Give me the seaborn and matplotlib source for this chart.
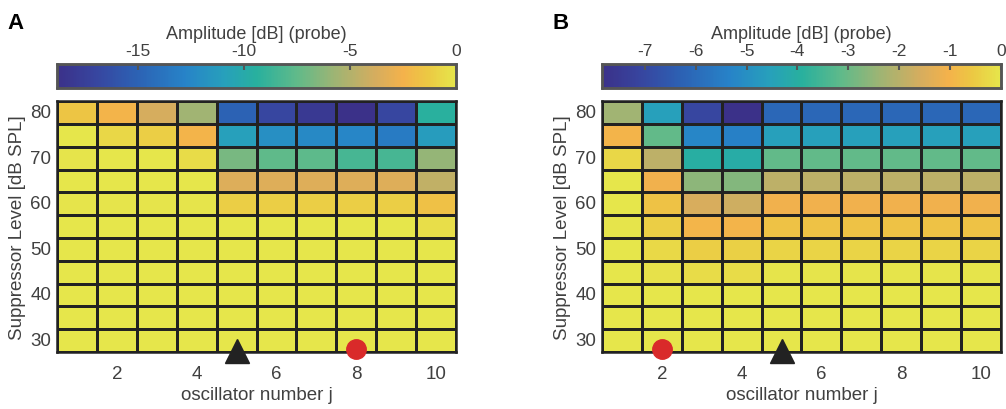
import numpy as np
import pandas as pd
import matplotlib
matplotlib.use("Agg")
import matplotlib.pyplot as plt
import seaborn as sns
from matplotlib.colors import LinearSegmentedColormap

# oscillator numbers and suppressor levels (top row = 80 dB SPL)
oscillators = list(range(1, 11))
levels = [80, 75, 70, 65, 60, 55, 50, 45, 40, 35, 30]

# panel A: probe amplitude [dB]
amp_a = [
    [-1.5, -2.4, -3.8, -5.6, -15.0, -16.9, -18.0, -18.8, -16.9, -9.4],
    [0.0, -0.7, -1.1, -2.4, -10.9, -12.0, -12.4, -12.6, -13.3, -11.1],
    [-0.1, 0.0, 0.0, -0.5, -6.8, -7.5, -7.6, -8.3, -8.3, -6.0],
    [0.0, 0.0, 0.0, 0.0, -3.5, -3.4, -3.4, -3.4, -3.4, -4.5],
    [-0.1, -0.1, -0.1, -0.1, -1.1, -1.1, -1.1, -1.1, -1.1, -1.7],
    [0.0, 0.0, 0.0, 0.0, 0.0, 0.0, 0.0, 0.0, 0.0, -0.4],
    [0.0, 0.0, 0.0, 0.0, 0.0, 0.0, 0.0, 0.0, 0.0, 0.0],
    [0.0, 0.0, 0.0, 0.0, 0.0, 0.0, 0.0, 0.0, 0.0, 0.0],
    [0.0, 0.0, 0.0, 0.0, 0.0, 0.0, 0.0, 0.0, 0.0, 0.0],
    [0.0, 0.0, 0.0, 0.0, 0.0, 0.0, 0.0, 0.0, 0.0, 0.0],
    [0.0, 0.0, 0.0, 0.0, 0.0, 0.0, 0.0, 0.0, 0.0, 0.0],
]

# panel B: probe amplitude [dB]
amp_b = [
    [-2.35, -4.55, -7.05, -7.84, -6.1, -6.1, -6.1, -6.1, -6.1, -6.1],
    [-1.0, -3.1, -5.25, -5.4, -4.55, -4.55, -4.55, -4.55, -4.55, -4.55],
    [-0.3, -1.95, -4.0, -4.1, -3.1, -3.1, -3.1, -3.1, -3.1, -3.1],
    [0.0, -1.1, -2.6, -2.7, -1.95, -1.95, -1.95, -1.95, -1.95, -1.95],
    [0.0, -0.7, -1.55, -1.7, -1.1, -1.1, -1.1, -1.1, -1.1, -1.1],
    [-0.05, -0.45, -0.95, -1.0, -0.7, -0.7, -0.7, -0.7, -0.7, -0.7],
    [0.0, -0.25, -0.45, -0.4, -0.35, -0.35, -0.35, -0.35, -0.35, -0.35],
    [0.0, -0.1, -0.2, -0.2, -0.05, -0.05, -0.05, -0.05, -0.05, -0.05],
    [0.0, 0.0, 0.0, 0.0, 0.0, 0.0, 0.0, 0.0, 0.0, 0.0],
    [0.0, 0.0, 0.0, 0.0, 0.0, 0.0, 0.0, 0.0, 0.0, 0.0],
    [0.0, 0.0, 0.0, 0.0, 0.0, 0.0, 0.0, 0.0, 0.0, 0.0],
]

# marker positions (oscillator number)
tri_a, dot_a = 5, 8
tri_b, dot_b = 5, 2

vmin_a, vmin_b = -18.8, -7.84
cbar_ticks_a = [-15, -10, -5, 0]
cbar_ticks_b = [-7, -6, -5, -4, -3, -2, -1, 0]

# parula-like map, slightly muted
parula = LinearSegmentedColormap.from_list("parula_ish", [
    (0.00, "#3b3189"), (0.10, "#3746a0"), (0.20, "#2c62b4"),
    (0.32, "#2783c8"), (0.42, "#27a0bb"), (0.50, "#28b09e"),
    (0.60, "#5fba8a"), (0.70, "#a0b473"), (0.80, "#d6ad5e"),
    (0.87, "#f4b24b"), (0.93, "#ecc843"), (1.00, "#e6e64b"),
])

txt = "#404040"
plt.rcParams["font.family"] = ["Liberation Sans", "DejaVu Sans"]

fig = plt.figure(figsize=(10.06, 4.10), dpi=100)


def panel(data, vmin, ticks, tri, dot, left, letter):
    ax = fig.add_axes([left, 0.139, 0.3966, 0.612])
    cax = fig.add_axes([left, 0.783, 0.3966, 0.0585])
    df = pd.DataFrame(data, index=levels, columns=oscillators)
    sns.heatmap(df, ax=ax, cmap=parula, vmin=vmin, vmax=0,
                linewidths=1.8, linecolor="#222222",
                cbar_ax=cax, cbar_kws={"orientation": "horizontal", "ticks": ticks})
    for s in ax.spines.values():
        s.set_visible(True)
        s.set_color("#222222")
        s.set_linewidth(1.8)
    ax.set_xticks([oscillators.index(j) + 0.5 for j in [2, 4, 6, 8, 10]])
    ax.set_xticklabels(["2", "4", "6", "8", "10"], rotation=0)
    ax.set_yticks([levels.index(l) + 0.5 for l in [80, 70, 60, 50, 40, 30]])
    ax.set_yticklabels(["80", "70", "60", "50", "40", "30"], rotation=0)
    ax.tick_params(length=0, labelsize=13.5, labelcolor=txt)
    ax.tick_params(axis="x", pad=9)
    ax.tick_params(axis="y", pad=4)
    ax.set_xlabel("oscillator number j", fontsize=13.5, color=txt, labelpad=3)
    ax.set_ylabel("Suppressor Level [dB SPL]", fontsize=13.5, color=txt, labelpad=3)
    ybot = len(levels)
    ax.plot([oscillators.index(tri) + 0.5], [ybot - 0.05], marker="^", ms=17,
            color="#222222", clip_on=False, zorder=5, ls="none")
    ax.plot([oscillators.index(dot) + 0.5], [ybot - 0.15], marker="o", ms=14,
            color="#d92a2a", clip_on=False, zorder=5, ls="none")

    cax.xaxis.set_ticks_position("top")
    cax.xaxis.set_label_position("top")
    cax.tick_params(direction="in", length=4, width=1.5, color="#555555",
                    labelsize=12.5, labelcolor=txt, pad=4)
    cax.set_xticklabels([str(t) for t in ticks])
    cax.set_xlabel("Amplitude [dB] (probe)", fontsize=13, color=txt, labelpad=4)
    for s in cax.spines.values():
        s.set_visible(True)
        s.set_color("#555555")
        s.set_linewidth(1.8)
    fig.text(left - 0.049, 0.93, letter, fontsize=16, fontweight="bold", color="black")


panel(amp_a, vmin_a, cbar_ticks_a, tri_a, dot_a, 0.0567, "A")
panel(amp_b, vmin_b, cbar_ticks_b, tri_b, dot_b, 0.5984, "B")

fig.savefig("out.png", dpi=100)
